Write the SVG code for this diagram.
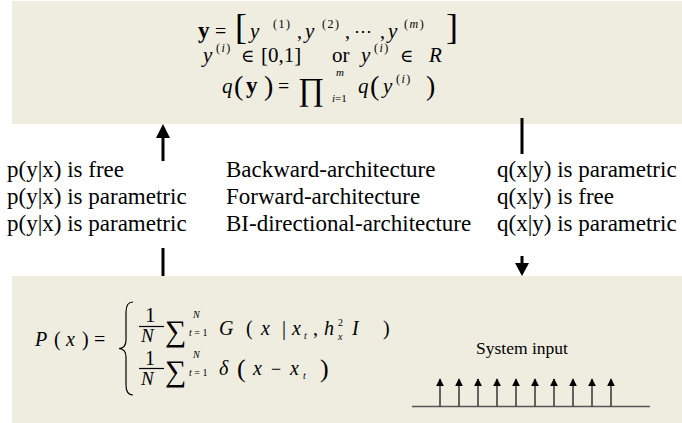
<svg xmlns="http://www.w3.org/2000/svg" width="682" height="423" viewBox="0 0 682 423">
  <style>
    .box { fill: #EFEDE0; }
    .t { font-family: "Liberation Serif", "Times New Roman", serif; fill: #000; }
    .i { font-style: italic; }
    .b { font-weight: bold; }
    .sym { font-family: "Liberation Serif", "DejaVu Serif", serif; fill: #000; }
    .lbl { font-family: "Liberation Serif", "Times New Roman", serif; font-size: 23px; fill: #000; }
    .conn { stroke: #000; stroke-width: 3; fill: none; }
    .imp { stroke: #333; stroke-width: 1.5; fill: none; }
  </style>
  <defs>
    <!-- arrowhead drawn pointing along +x so orient="auto" turns it with the line -->
    <marker id="impHead" viewBox="0 0 10 10" refX="9" refY="5" markerWidth="8" markerHeight="8" markerUnits="userSpaceOnUse" orient="auto">
      <path d="M0,0 L10,5 L0,10 Z" fill="#000"/>
    </marker>
  </defs>

  <!-- output distribution box -->
  <g id="output-node">
    <rect class="box" x="12" y="1" width="670" height="123"/>
    <!-- y = [y(1), y(2), ..., y(m)] -->
    <text class="t b" x="198" y="38" font-size="23">y</text>
    <text class="t" x="215" y="38" font-size="20">=</text>
    <text class="t" x="235" y="39" font-size="36">[</text>
    <text class="t i" x="250" y="38" font-size="21">y</text>
    <text class="t" x="273" y="28" font-size="12" letter-spacing="1.5">(1)</text>
    <text class="t" x="297" y="38" font-size="20">,</text>
    <text class="t i" x="305" y="38" font-size="21">y</text>
    <text class="t" x="322" y="28" font-size="12" letter-spacing="1.5">(2)</text>
    <text class="t" x="345" y="38" font-size="20">,</text>
    <text class="sym" x="354" y="37" font-size="18">⋯</text>
    <text class="t" x="380" y="38" font-size="20">,</text>
    <text class="t i" x="388" y="38" font-size="21">y</text>
    <text class="t" x="404" y="28" font-size="12" letter-spacing="1.5">(<tspan font-style="italic">m</tspan>)</text>
    <text class="t" x="446" y="39" font-size="36">]</text>

    <!-- y(i) in [0,1] or y(i) in R -->
    <text class="t i" x="203" y="62" font-size="21">y</text>
    <text class="t" x="216" y="52" font-size="12" letter-spacing="1.5">(<tspan font-style="italic">i</tspan>)</text>
    <text class="sym" x="241" y="62" font-size="18">∈</text>
    <text class="t" x="261" y="62" font-size="21">[0,1]</text>
    <text class="t" x="332" y="62" font-size="21">or</text>
    <text class="t i" x="361" y="62" font-size="21">y</text>
    <text class="t" x="374" y="52" font-size="12" letter-spacing="1.5">(<tspan font-style="italic">i</tspan>)</text>
    <text class="sym" x="400" y="62" font-size="18">∈</text>
    <text class="t i" x="429" y="62" font-size="21">R</text>

    <!-- q(y) = prod q(y(i)) -->
    <text class="t i" x="222" y="93" font-size="21">q</text>
    <text class="t" x="234" y="95" font-size="28">(</text>
    <text class="t b" x="246" y="93" font-size="23">y</text>
    <text class="t" x="264" y="95" font-size="28">)</text>
    <text class="t" x="278" y="93" font-size="20">=</text>
    <text class="sym" x="298" y="100" font-size="32">∏</text>
    <text class="t i" x="336" y="76" font-size="11">m</text>
    <text class="t" x="332" y="102" font-size="11"><tspan font-style="italic">i</tspan>=1</text>
    <text class="t i" x="358" y="93" font-size="21">q</text>
    <text class="t" x="370" y="95" font-size="28">(</text>
    <text class="t i" x="383" y="93" font-size="21">y</text>
    <text class="t" x="396" y="83" font-size="12" letter-spacing="1.5">(<tspan font-style="italic">i</tspan>)</text>
    <text class="t" x="426" y="95" font-size="28">)</text>
  </g>

  <!-- input distribution box -->
  <g id="input-node">
    <rect class="box" x="12" y="276" width="670" height="147"/>
    <text class="t i" x="35" y="346" font-size="20">P</text>
    <text class="t" x="54" y="346" font-size="20">(</text>
    <text class="t i" x="66" y="346" font-size="20">x</text>
    <text class="t" x="82" y="346" font-size="20">)</text>
    <text class="t" x="94" y="346" font-size="20">=</text>
    <!-- left brace -->
    <path d="M133,302 Q126,302 126,312 L126,340 Q126,348 119,348.5 Q126,349 126,357 L126,385 Q126,395 133,395" fill="none" stroke="#000" stroke-width="1.2"/>

    <!-- row 1: Gaussian kernel sum -->
    <text class="t" x="145" y="322" font-size="21">1</text>
    <line x1="139" y1="326.5" x2="164" y2="326.5" stroke="#000" stroke-width="1.2"/>
    <text class="t i" x="141" y="342" font-size="19">N</text>
    <text class="sym" x="165" y="341" font-size="30">∑</text>
    <text class="t i" x="193" y="318" font-size="10">N</text>
    <text class="t" x="189" y="336" font-size="10"><tspan font-style="italic">t</tspan> = 1</text>
    <text class="t i" x="219" y="335" font-size="20">G</text>
    <text class="t" x="246" y="335" font-size="20">(</text>
    <text class="t i" x="261" y="335" font-size="20">x</text>
    <text class="t" x="282" y="335" font-size="20">|</text>
    <text class="t i" x="292" y="335" font-size="20">x</text>
    <text class="t i" x="304" y="339" font-size="10">t</text>
    <text class="t" x="313" y="335" font-size="20">,</text>
    <text class="t i" x="324" y="335" font-size="20">h</text>
    <text class="t" x="338" y="326" font-size="10">2</text>
    <text class="t i" x="338" y="340" font-size="10">x</text>
    <text class="t i" x="352" y="335" font-size="20">I</text>
    <text class="t" x="383" y="335" font-size="20">)</text>

    <!-- row 2: empirical delta sum -->
    <text class="t" x="145" y="365" font-size="20">1</text>
    <line x1="139" y1="368.5" x2="164" y2="368.5" stroke="#000" stroke-width="1.2"/>
    <text class="t i" x="141" y="385" font-size="19">N</text>
    <text class="sym" x="165" y="381" font-size="30">∑</text>
    <text class="t i" x="193" y="358" font-size="10">N</text>
    <text class="t" x="189" y="376" font-size="10"><tspan font-style="italic">t</tspan> = 1</text>
    <text class="t i" x="219" y="375" font-size="20">δ</text>
    <text class="t" x="237" y="377" font-size="26">(</text>
    <text class="t i" x="253" y="375" font-size="20">x</text>
    <text class="sym" x="271" y="375" font-size="18">−</text>
    <text class="t i" x="290" y="375" font-size="20">x</text>
    <text class="t i" x="303" y="379" font-size="10">t</text>
    <text class="t" x="320" y="377" font-size="26">)</text>

    <!-- system input impulse train -->
    <text class="t" x="476" y="354" font-size="17.5">System input</text>
    <line x1="412" y1="406.5" x2="650" y2="406.5" stroke="#555" stroke-width="1.5"/>
    <g class="imp">
      <line x1="440" y1="406" x2="440" y2="379" marker-end="url(#impHead)"/>
      <line x1="459" y1="406" x2="459" y2="379" marker-end="url(#impHead)"/>
      <line x1="478" y1="406" x2="478" y2="379" marker-end="url(#impHead)"/>
      <line x1="497" y1="406" x2="497" y2="379" marker-end="url(#impHead)"/>
      <line x1="516" y1="406" x2="516" y2="379" marker-end="url(#impHead)"/>
      <line x1="535" y1="406" x2="535" y2="379" marker-end="url(#impHead)"/>
      <line x1="554" y1="406" x2="554" y2="379" marker-end="url(#impHead)"/>
      <line x1="573" y1="406" x2="573" y2="379" marker-end="url(#impHead)"/>
      <line x1="592" y1="406" x2="592" y2="379" marker-end="url(#impHead)"/>
      <line x1="611" y1="406" x2="611" y2="379" marker-end="url(#impHead)"/>
    </g>
  </g>

  <!-- architecture labels -->
  <g id="p-labels">
    <text class="lbl" x="7" y="177">p(y|x) is free</text>
    <text class="lbl" x="7" y="204">p(y|x) is parametric</text>
    <text class="lbl" x="7" y="231">p(y|x) is parametric</text>
  </g>
  <g id="arch-labels">
    <text class="lbl" x="226" y="177">Backward-architecture</text>
    <text class="lbl" x="226" y="204">Forward-architecture</text>
    <text class="lbl" x="226" y="231">BI-directional-architecture</text>
  </g>
  <g id="q-labels">
    <text class="lbl" x="497" y="177">q(x|y) is parametric</text>
    <text class="lbl" x="497" y="204">q(x|y) is free</text>
    <text class="lbl" x="497" y="231">q(x|y) is parametric</text>
  </g>

  <!-- connectors between the two distributions -->
  <g id="connectors">
    <line class="conn" x1="163" y1="161" x2="163" y2="136"/>
    <path d="M163,124 L156,138 L170,138 Z" fill="#000"/>
    <line class="conn" x1="163" y1="248" x2="163" y2="276"/>
    <line class="conn" x1="522" y1="118" x2="522" y2="154"/>
    <line class="conn" x1="522" y1="256" x2="522" y2="265"/>
    <path d="M522,276 L515,263 L529,263 Z" fill="#000"/>
  </g>
</svg>
